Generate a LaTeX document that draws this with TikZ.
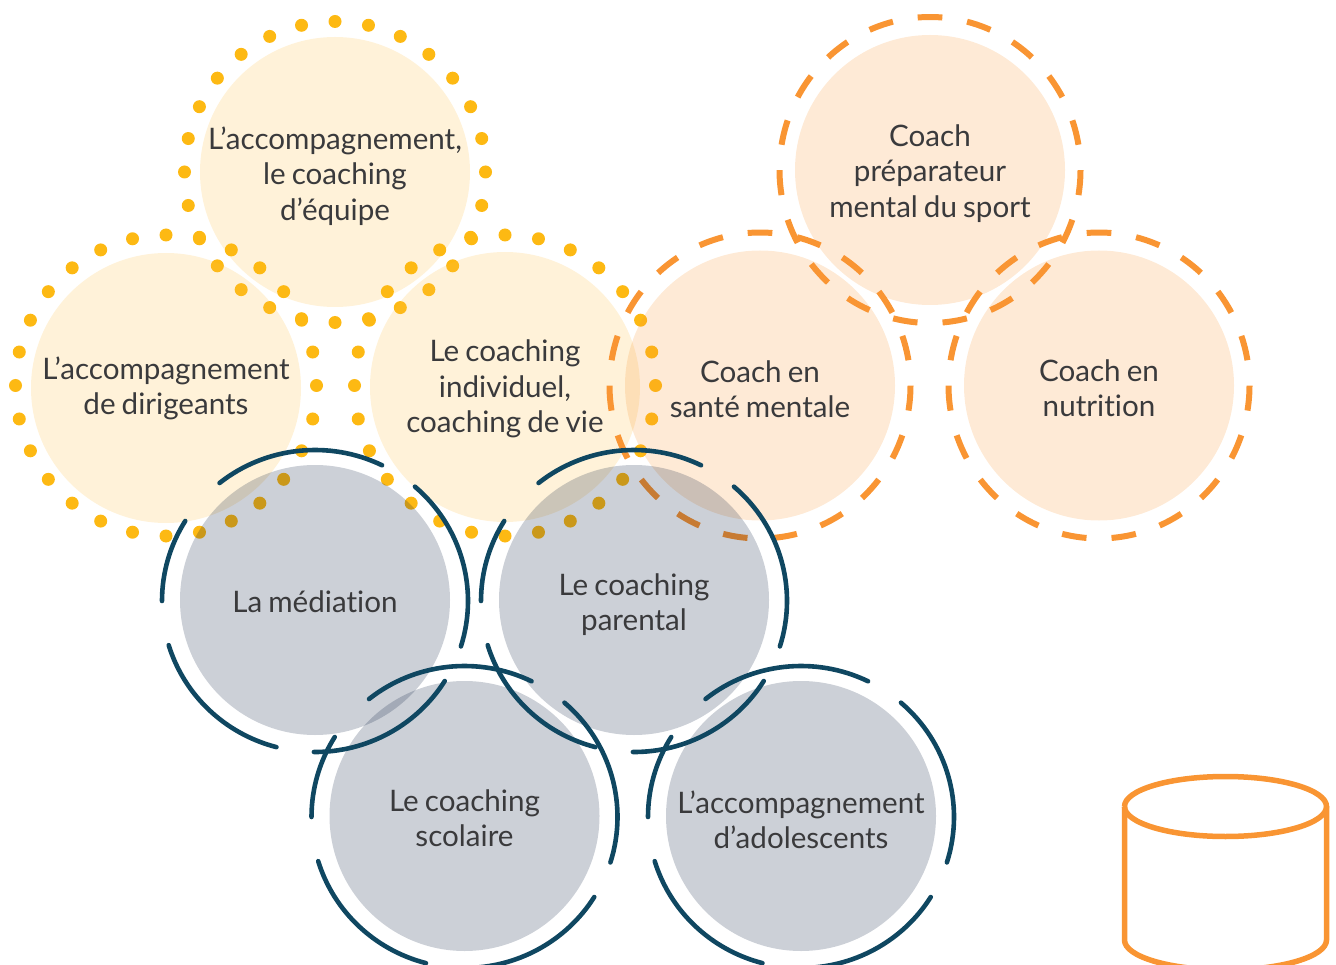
\documentclass[tikz,border=0pt]{standalone}
\usepackage{fontspec}
\setmainfont{Lato}[Ligatures=CommonOff,WordSpace=0.8]
\definecolor{dotc}{HTML}{FDB913}
\definecolor{yellowfill}{HTML}{FDBE40}
\definecolor{orangec}{HTML}{F99533}
\definecolor{navyc}{HTML}{0F4761}
\definecolor{grayfill}{HTML}{001437}
\definecolor{textc}{HTML}{3A3A3C}
\tikzset{
  disc/.style={circle,minimum size=270pt,inner sep=-30pt,text=textc,text opacity=1,
    font=\fontsize{29.6}{35.5}\selectfont,fill opacity=.2},
  yellowdisc/.style={disc,fill=yellowfill},
  orangedisc/.style={disc,fill=orangec},
  graydisc/.style={disc,fill=grayfill},
  orangering/.style={draw=orangec,line width=6pt,line cap=butt},
  navyring/.style={draw=navyc,line width=4.6pt,line cap=round},
}
\newcommand{\lbl}[2]{\raisebox{#1pt}[0pt][0pt]{\begin{tabular}{@{}c@{}}#2\end{tabular}}}
\newcommand{\dotring}[1]{%
  \foreach \i in {0,...,27}{\fill[dotc] (#1) ++({\i*360/28}:150.5) circle (6.5pt);}}
\newcommand{\dashring}[1]{%
  \foreach \k in {0,...,18}{%
    \draw[orangering] (#1) ++({90-\k*18.947+4.7}:150.5pt and 153pt)
      arc[start angle={90-\k*18.947+4.7},end angle={90-\k*18.947-4.7},x radius=150.5pt,y radius=153pt];}}
\newcommand{\navyarc}[3]{%
  \draw[navyring] (#1) ++(0,-1) ++({90-#2}:153pt and 151pt)
    arc[start angle={90-#2},end angle={90-#3},x radius=153pt,y radius=151pt];}
\newcommand{\navyring}[1]{%
  \navyarc{#1}{-38.6}{26}\navyarc{#1}{40.8}{107.5}\navyarc{#1}{122}{180.4}%
  \navyarc{#1}{194.6}{253}\navyarc{#1}{270}{302}}
\begin{document}
\begin{tikzpicture}[x=1pt,y=1pt]
\useasboundingbox (0,0) rectangle (1336,-965);
\clip (0,0) rectangle (1336,-965);
\coordinate (yr1) at (335,-172);
\coordinate (yr2) at (166,-385.5);
\coordinate (yr3) at (505,-385.5);
\node[yellowdisc] (y1) at (335,-172) {\lbl{-12}{L’accompagnement,\\le coaching\\d’équipe}};
\dotring{yr1}
\node[yellowdisc] (y2) at (166,-388) {\lbl{-8}{L’accompagnement\\de dirigeants}};
\dotring{yr2}
\node[yellowdisc] (y3) at (505,-387) {\lbl{-9.5}{Le coaching\\individuel,\\coaching de vie}};
\dotring{yr3}
\node[orangedisc] (o1) at (930,-170) {\lbl{-11}{Coach\\préparateur\\mental du sport}};
\dashring{o1.center}
\node[orangedisc] (o2) at (760,-385.5) {\lbl{-13.5}{Coach en\\santé mentale}};
\dashring{o2.center}
\node[orangedisc] (o3) at (1099,-385.5) {\lbl{-12.5}{Coach en\\nutrition}};
\dashring{o3.center}
\node[graydisc] (g1) at (315,-600) {\lbl{-12}{La médiation}};
\node[graydisc] (g2) at (634,-600) {\lbl{-12}{Le coaching\\parental}};
\node[graydisc] (g3) at (464.5,-816) {\lbl{-12}{Le coaching\\scolaire}};
\node[graydisc] (g4) at (801,-816) {\lbl{-14}{L’accompagnement\\d’adolescents}};
\navyring{g1.center}
\navyring{g2.center}
\navyring{g3.center}
\navyring{g4.center}
\draw[orangec,line width=5.5pt] (1124.5,-806.5) arc[start angle=180,end angle=-180,x radius=101pt,y radius=30pt];
\draw[orangec,line width=5.5pt] (1124.5,-806.5) -- (1124.5,-940)
  arc[start angle=180,end angle=360,x radius=101pt,y radius=30pt] -- (1326.5,-806.5);
\end{tikzpicture}
\end{document}
